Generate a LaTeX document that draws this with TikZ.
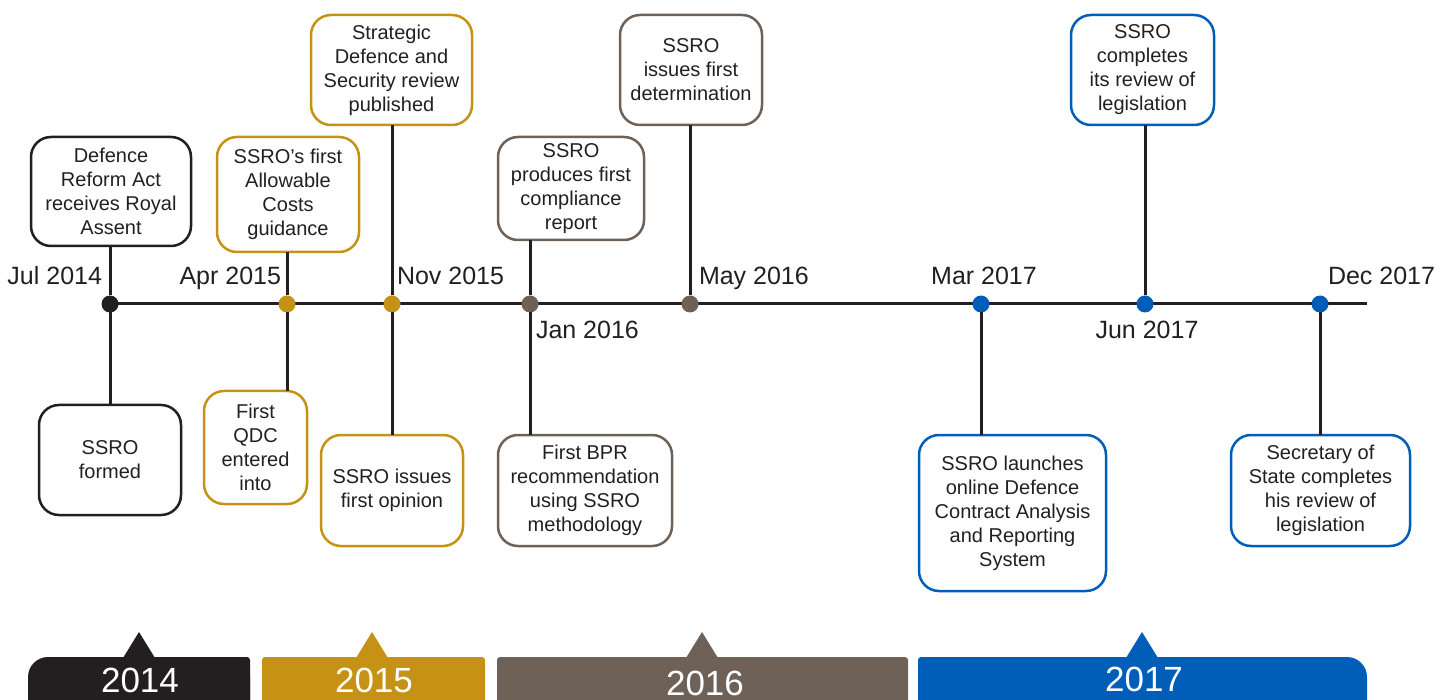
\documentclass[tikz,border=0pt]{standalone}
\usepackage{fontspec}
\setmainfont{Liberation Sans}
\usetikzlibrary{arrows}

\begin{document}
\begin{tikzpicture}[x=1pt, y=-1pt,
    inner sep=0pt, outer sep=0pt,%
    line/.style={line width=3pt, color=ink},
    dot/.style={circle, fill=#1, minimum size=17pt},
    event/.style={draw=#1, line width=2.5pt, rounded corners=20pt, align=center,
        text=ink, font=\fontsize{20}{24}\selectfont},
    date/.style={text=ink, font=\fontsize{25}{28}\selectfont},
    year/.style={text=white, font=\fontsize{35}{40}\selectfont},
]
    % Colors
    \definecolor{ink}{HTML}{231F20}
    \definecolor{c14}{HTML}{231F20}
    \definecolor{c15}{HTML}{C59216}
    \definecolor{c16}{HTML}{6D6158}
    \definecolor{c17}{HTML}{005EB8}

    % Frame
    \path[use as bounding box, clip] (0,0) rectangle (1451,700);

    % Timeline
    \coordinate (start) at (110,304);
    \coordinate (end)   at (1367,304);
    \draw[line] (start) -- (end);

    \foreach \name/\x/\col in {jul14/110/c14, apr15/287/c15, nov15/392/c15, jan16/530/c16,
                               may16/690/c16, mar17/981/c17, jun17/1145/c17, dec17/1320/c17}
        \node[dot=\col] (\name) at (\x,304) {};

    % Events above the line
    \node[event=c14, minimum width=160pt, minimum height=109pt] (royal) at (111,191.5)
        {Defence\\Reform Act\\receives Royal\\Assent};
    \node[event=c15, minimum width=142pt, minimum height=115pt] (costs) at (288,194.5)
        {SSRO’s first\\Allowable\\Costs\\guidance};
    \node[event=c15, minimum width=161pt, minimum height=110pt] (sdsr) at (391.5,70)
        {Strategic\\Defence and\\Security review\\published};
    \node[event=c16, minimum width=146pt, minimum height=103pt] (compliance) at (571,188.5)
        {SSRO\\produces first\\compliance\\report};
    \node[event=c16, minimum width=142pt, minimum height=110pt] (determination) at (691,70)
        {SSRO\\issues first\\determination};
    \node[event=c17, minimum width=143pt, minimum height=110pt] (review) at (1142.5,70)
        {SSRO\\completes\\its review of\\legislation};

    % Events below the line
    \node[event=c14, minimum width=142pt, minimum height=110pt] (formed) at (110,460)
        {SSRO\\formed};
    \node[event=c15, minimum width=103pt, minimum height=113pt] (qdc) at (255.5,447.5)
        {First\\QDC\\entered\\into};
    \node[event=c15, minimum width=142pt, minimum height=111pt] (opinion) at (392,490.5)
        {SSRO issues\\first opinion};
    \node[event=c16, minimum width=174pt, minimum height=111pt] (bpr) at (585,490.5)
        {First BPR\\recommendation\\using SSRO\\methodology};
    \node[event=c17, minimum width=187pt, minimum height=156pt] (dcars) at (1012.5,513)
        {SSRO launches\\online Defence\\Contract Analysis\\and Reporting\\System};
    \node[event=c17, minimum width=179pt, minimum height=111pt] (sos) at (1320.5,490.5)
        {Secretary of\\State completes\\his review of\\legislation};

    % Connectors
    \draw[line] (jul14) -- (jul14 |- royal.south);
    \draw[line] (jul14) -- (jul14 |- formed.north);
    \draw[line] (apr15) -- (apr15 |- costs.south);
    \draw[line] (apr15) -- (apr15 |- qdc.north);
    \draw[line] (nov15) -- (nov15 |- sdsr.south);
    \draw[line] (nov15) -- (nov15 |- opinion.north);
    \draw[line] (jan16) -- (jan16 |- compliance.south);
    \draw[line] (jan16) -- (jan16 |- bpr.north);
    \draw[line] (may16) -- (may16 |- determination.south);
    \draw[line] (mar17) -- (mar17 |- dcars.north);
    \draw[line] (jun17) -- (jun17 |- review.south);
    \draw[line] (dec17) -- (dec17 |- sos.north);

    % Dates
    \node[date, anchor=base east] (jul14-date) at (102,285) {Jul 2014};
    \node[date, anchor=base east] (apr15-date) at (281,285) {Apr 2015};
    \node[date, anchor=base west] (nov15-date) at (397,285) {Nov 2015};
    \node[date, anchor=base west] (jan16-date) at (536,339) {Jan 2016};
    \node[date, anchor=base west] (may16-date) at (699,285) {May 2016};
    \node[date, anchor=base]      (mar17-date) at (984,285) {Mar 2017};
    \node[date, anchor=base]      (jun17-date) at (1147,339) {Jun 2017};
    \node[date, anchor=base west] (dec17-date) at (1328,285) {Dec 2017};

    % Year bars
    \fill[c14, rounded corners=20pt] (28,657) rectangle (250,740);
    \fill[c14, rounded corners=3pt]  (80,657) rectangle (250,740);
    \fill[c15, rounded corners=3pt]  (262,657) rectangle (485,740);
    \fill[c16, rounded corners=3pt]  (497,657) rectangle (908,740);
    \fill[c17, rounded corners=3pt]  (918,657) rectangle (1300,740);
    \fill[c17, rounded corners=20pt] (918,657) rectangle (1367,740);

    \foreach \x/\col in {139/c14, 372/c15, 702/c16, 1142/c17}
        \fill[\col] (\x-16,658) -- (\x,632) -- (\x+16,658) -- cycle;

    \node[year] (y2014) at (140,680) {2014};
    \node[year] (y2015) at (374,680) {2015};
    \node[year] (y2016) at (705,683) {2016};
    \node[year] (y2017) at (1144,679) {2017};
\end{tikzpicture}
\end{document}
